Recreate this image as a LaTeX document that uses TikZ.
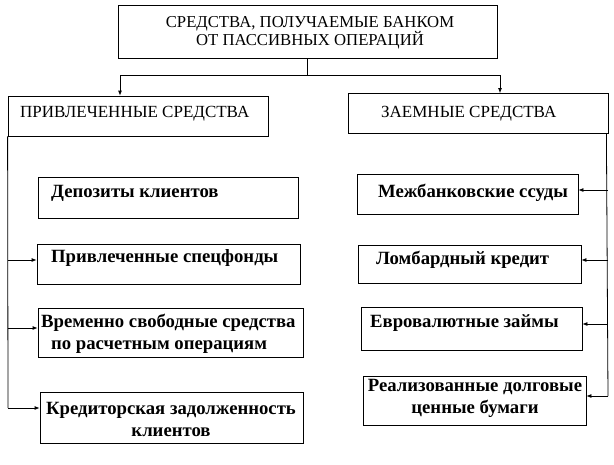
\documentclass[tikz,border=0pt]{standalone}
\usepackage{fontspec}
\setmainfont{Liberation Serif}
\usetikzlibrary{arrows.meta}
\begin{document}
\begin{tikzpicture}[x=1pt,y=-1pt,
  box/.style={draw, line width=0.8pt, inner sep=0pt},
  hd/.style={font=\fontsize{17}{19}\selectfont, inner sep=0pt, anchor=west},
  it/.style={font=\bfseries\fontsize{18.7}{22}\selectfont, inner sep=0pt, anchor=west},
  ln/.style={line width=0.8pt},
  arr/.style={line width=0.8pt, -{Latex[length=5pt,width=4pt]}}]
\useasboundingbox (0,0) rectangle (614,464);
% boxes
\node[box, minimum width=379pt, minimum height=53pt] (top) at (307.5,31.5) {};
\node[box, minimum width=260pt, minimum height=40pt] (lh) at (138,116) {};
\node[box, minimum width=260pt, minimum height=40pt] (rh) at (478,113.5) {};
\node[box, minimum width=260pt, minimum height=41pt] (l1) at (168,197.5) {};
\node[box, minimum width=263pt, minimum height=40pt] (l2) at (168.5,264.5) {};
\node[box, minimum width=265pt, minimum height=49pt] (l3) at (170.5,332.5) {};
\node[box, minimum width=263pt, minimum height=51pt] (l4) at (171.5,417.5) {};
\node[box, minimum width=221pt, minimum height=40pt] (r1) at (467.5,194) {};
\node[box, minimum width=223pt, minimum height=38pt] (r2) at (469.5,264) {};
\node[box, minimum width=221pt, minimum height=43pt] (r3) at (471.5,328.5) {};
\node[box, minimum width=223pt, minimum height=49pt] (r4) at (474.5,400.5) {};
% texts
\node[font=\fontsize{16.7}{18}\selectfont, align=center, inner sep=0pt] (ttop) at (310,33) {СРЕДСТВА, ПОЛУЧАЕМЫЕ БАНКОМ\\ОТ ПАССИВНЫХ ОПЕРАЦИЙ};
\node[hd] (tlh) at (20,114) {ПРИВЛЕЧЕННЫЕ СРЕДСТВА};
\node[hd] (trh) at (381,114) {ЗАЕМНЫЕ СРЕДСТВА};
\node[it] (tl1) at (51,193) {Депозиты клиентов};
\node[it] (tl2) at (51,258) {Привлеченные спецфонды};
\node[it, align=left] (tl3) at (41,334) {Временно свободные средства\\\hspace*{10pt}по расчетным операциям};
\node[it, align=center, anchor=center] (tl4) at (171,419) {Кредиторская задолженность\\клиентов};
\node[it] (tr1) at (378,193) {Межбанковские ссуды};
\node[it] (tr2) at (376,260) {Ломбардный кредит};
\node[it] (tr3) at (370,323) {Евровалютные займы};
\node[it, align=center, anchor=center] (tr4) at (475,398) {Реализованные долговые\\ценные бумаги};
% connectors
\coordinate (j) at (307.5,75);
\draw[ln] (top.south) -- (j);
\draw[arr] (j) -| ([xshift=-18pt]lh.north);
\draw[arr] (j) -| ([xshift=22pt]rh.north);
\coordinate (lb) at (8,408);
\draw[ln] (lh.south west) -- (lb);
\draw[arr] (8,260) -- (l2.west |- 8,260);
\draw[arr] (8,328) -- (l3.west |- 8,328);
\draw[arr] (lb) -- (l4.west |- lb);
\coordinate (rb) at (608,396);
\draw[ln] ([xshift=-2pt]rh.south east) -- (rb);
\draw[arr] (608,190) -- (r1.east |- 608,190);
\draw[arr] (608,260) -- (r2.east |- 608,260);
\draw[arr] (608,324) -- (r3.east |- 608,324);
\draw[arr] (rb) -- (r4.east |- rb);
\end{tikzpicture}
\end{document}
